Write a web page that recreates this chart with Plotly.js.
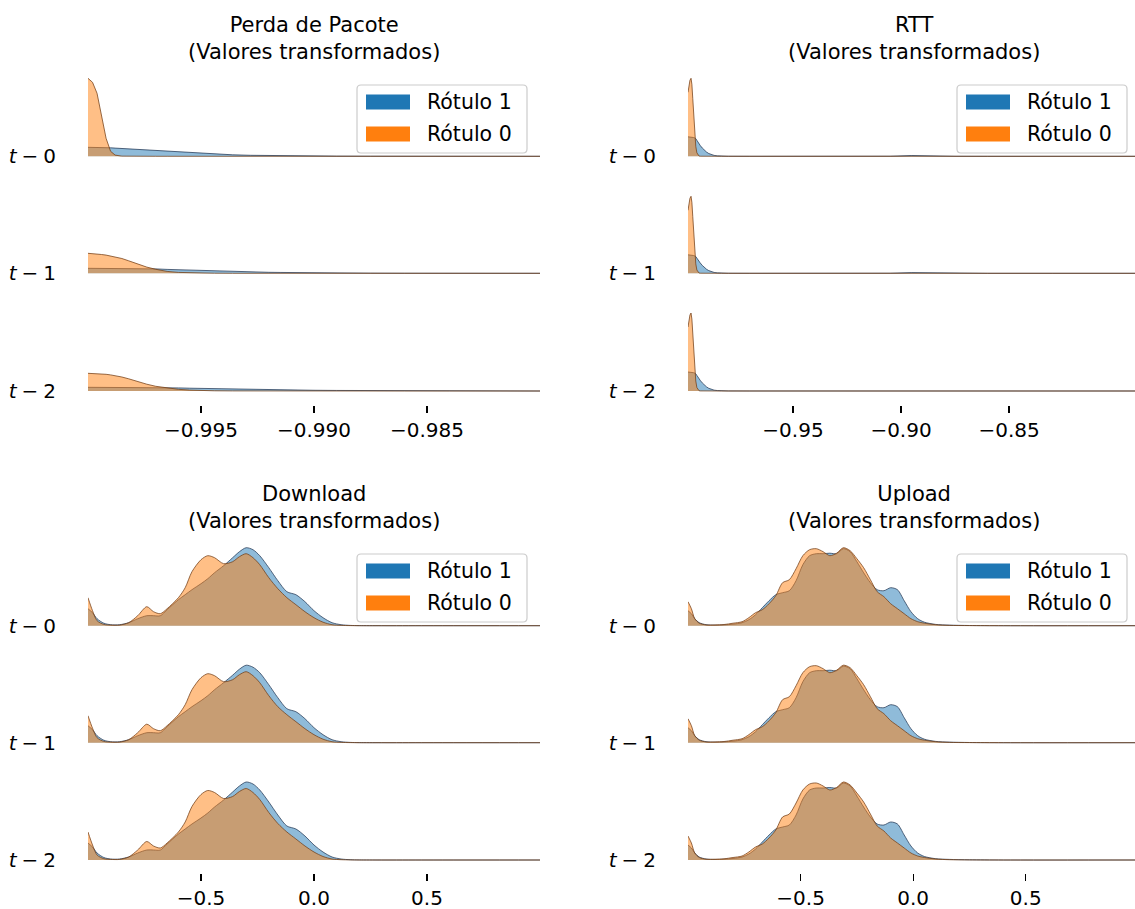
<!DOCTYPE html>
<html><head><meta charset="utf-8">
<script src="https://cdn.plot.ly/plotly-3.0.1.min.js"></script>
<style>html,body{margin:0;padding:0;background:#fff}#chart{width:1135px;height:909px}</style>
</head><body><div id="chart"></div>
<script>
// ---------------- data ----------------
const seriesNames = ['Rótulo 1', 'Rótulo 0'];
const rowLabels = ['<i>t</i>\u2005−\u20050', '<i>t</i>\u2005−\u20051', '<i>t</i>\u2005−\u20052'];
const panelTitles = ['Perda de Pacote', 'RTT', 'Download', 'Upload'];
const subtitle = '(Valores transformados)';

// Perda de Pacote (transformed values), relative density
const perdaX = [-1.0, -0.9998, -0.9996, -0.9994, -0.9992, -0.999, -0.9988, -0.9985, -0.9982, -0.9978, -0.9974, -0.997, -0.9965, -0.996, -0.9955, -0.995, -0.9944, -0.9936, -0.9928, -0.992, -0.9915, -0.991, -0.99, -0.989, -0.9875, -0.986, -0.984, -0.982, -0.98];
const perda1_t0 = [9, 9, 9, 8.9, 8.7, 8.5, 8.2, 7.8, 7.3, 6.7, 6.1, 5.5, 4.9, 4.3, 3.6, 3.0, 2.2, 1.5, 1.0, 0.7, 0.55, 0.45, 0.3, 0.18, 0.1, 0.05, 0.02, 0.01, 0];
const perda0_t0 = [78, 74, 63, 42, 18, 5, 1.2, 0.15, 0, 0, 0, 0, 0, 0, 0, 0, 0, 0, 0.05, 0.3, 0.6, 0.3, 0.05, 0, 0, 0, 0, 0, 0];
const perda1_t1 = [5, 5, 5, 5, 5, 5, 5, 5, 5, 4.9, 4.7, 4.4, 3.9, 3.5, 3.1, 2.7, 2.3, 1.8, 1.4, 1.0, 0.85, 0.7, 0.45, 0.3, 0.15, 0.08, 0.03, 0.01, 0];
const perda0_t1 = [20, 19.8, 19.3, 18.8, 18.2, 17.4, 16.5, 14.8, 12.5, 9.0, 6.2, 4.0, 1.9, 0.9, 0.45, 0.2, 0.08, 0, 0, 0, 0, 0, 0, 0, 0, 0, 0, 0, 0];
const perda1_t2 = [3.7, 3.7, 3.7, 3.7, 3.7, 3.7, 3.7, 3.7, 3.7, 3.7, 3.65, 3.55, 3.35, 3.1, 2.8, 2.55, 2.2, 1.8, 1.4, 1.1, 1.0, 0.9, 0.72, 0.55, 0.38, 0.25, 0.12, 0.05, 0];
const perda0_t2 = [17.7, 17.6, 17.4, 17.1, 16.7, 16.1, 15.4, 14.0, 12.2, 9.3, 6.8, 4.7, 2.9, 1.7, 0.9, 0.45, 0.2, 0.08, 0, 0, 0, 0, 0, 0, 0, 0, 0, 0, 0];
const perdaTicks = [-0.995, -0.990, -0.985];
const perdaTickText = ['−0.995', '−0.990', '−0.985'];

// RTT
const rttX = [-0.9986, -0.9982, -0.9977, -0.9972, -0.9968, -0.9964, -0.996, -0.9955, -0.995, -0.9945, -0.994, -0.9935, -0.993, -0.992, -0.991, -0.99, -0.989, -0.988, -0.9865, -0.985, -0.983, -0.98, -0.97, -0.95, -0.92, -0.905, -0.895, -0.885, -0.875, -0.86, -0.83, -0.79];
const rtt1_t0 = [19.5, 19.5, 19.4, 19.3, 19.2, 19.0, 18.8, 18.4, 17.7, 16, 14, 12.5, 11, 8.3, 6, 4.2, 2.8, 1.8, 0.9, 0.45, 0.2, 0.08, 0.02, 0, 0, 0.1, 0.8, 0.3, 0.05, 0, 0, 0];
const rtt0_t0 = [64, 70, 76, 78, 72, 58, 40, 22, 10, 3.5, 1, 0.3, 0.08, 0, 0, 0, 0, 0, 0, 0, 0, 0, 0, 0, 0, 0, 0.1, 0.3, 0.1, 0, 0, 0];
const rtt1_t1 = [18.5, 18.5, 18.4, 18.3, 18.2, 18.0, 17.8, 17.4, 16.8, 15.2, 13.3, 11.9, 10.5, 7.9, 5.7, 4.0, 2.7, 1.7, 0.85, 0.45, 0.2, 0.08, 0.02, 0, 0, 0.1, 0.7, 0.3, 0.05, 0, 0, 0];
const rtt0_t1 = [63, 69, 75, 77, 71, 57, 39, 21, 9.5, 3.3, 1, 0.3, 0.08, 0, 0, 0, 0, 0, 0, 0, 0, 0, 0, 0, 0, 0, 0, 0, 0, 0, 0, 0];
const rtt1_t2 = [19, 19, 18.9, 18.8, 18.7, 18.5, 18.3, 17.9, 17.2, 15.6, 13.6, 12.2, 10.8, 8.1, 5.8, 4.1, 2.7, 1.7, 0.85, 0.45, 0.2, 0.08, 0.02, 0, 0, 0, 0.1, 0.05, 0, 0, 0, 0];
const rtt0_t2 = [64, 70, 76, 78, 72, 58, 40, 22, 10, 3.5, 1, 0.3, 0.08, 0, 0, 0, 0, 0, 0, 0, 0, 0, 0, 0, 0, 0.1, 0.5, 0.2, 0.05, 0, 0, 0];
const rttTicks = [-0.95, -0.90, -0.85];
const rttTickText = ['−0.95', '−0.90', '−0.85'];

// Download
const downloadX = [-1.0, -0.98, -0.96, -0.93, -0.9, -0.86, -0.82, -0.78, -0.74, -0.71, -0.68, -0.65, -0.6, -0.57, -0.54, -0.5, -0.47, -0.44, -0.4, -0.36, -0.33, -0.3, -0.27, -0.24, -0.2, -0.16, -0.12, -0.08, -0.04, 0.0, 0.04, 0.08, 0.12, 0.16, 0.2, 0.3, 0.5, 1.0];
const download1_t0 = [17, 13, 7, 2.5, 1, 1, 3, 7, 10, 10, 10, 16, 26, 31, 36, 42, 47, 53, 60, 68, 74, 78, 76, 70, 58, 45, 34, 31, 24, 15, 8, 3, 1, 0.3, 0.1, 0, 0, 0];
const download0_t0 = [28, 15, 5, 1.3, 0.6, 0.6, 3, 10, 19, 14, 12, 17, 28, 38, 54, 66, 70, 68, 62, 64, 69, 72, 68, 61, 48, 37, 28, 21, 14, 8, 3.5, 1, 0.3, 0.1, 0, 0, 0, 0];
const download1_t1 = [17, 13, 7, 2.5, 1, 1, 3, 7, 10, 10, 10, 16, 26, 31, 36, 42, 47, 53, 60, 67.5, 73.5, 77.5, 75.5, 70, 58, 45, 34, 31, 24, 15, 8, 3, 1, 0.3, 0.1, 0, 0, 0];
const download0_t1 = [27, 14.5, 5, 1.3, 0.6, 0.6, 3, 10, 18.5, 14, 12, 17, 28, 38, 53, 65, 69, 67, 61, 63, 68, 71, 67, 60, 47, 36, 28, 21, 14, 8, 3.5, 1, 0.3, 0.1, 0, 0, 0, 0];
const download1_t2 = [17, 13, 7, 2.5, 1, 1, 3, 7, 10, 10, 10, 16, 26, 31, 36, 42, 47, 53, 60, 68, 74, 78, 76, 70, 58, 45, 34, 31, 24, 15, 8, 3, 1, 0.3, 0.1, 0, 0, 0];
const download0_t2 = [28, 15, 5, 1.3, 0.6, 0.6, 3, 10, 18.5, 14, 12, 17, 28, 38, 53.5, 65.5, 69.5, 67.5, 61.5, 63.5, 68.5, 71.5, 67.5, 60.5, 47.5, 36.5, 28, 21, 14, 8, 3.5, 1, 0.3, 0.1, 0, 0, 0, 0];

// Upload
const uploadX = [-1.0, -0.985, -0.97, -0.95, -0.92, -0.88, -0.84, -0.8, -0.76, -0.73, -0.7, -0.67, -0.64, -0.61, -0.58, -0.55, -0.52, -0.49, -0.46, -0.43, -0.4, -0.37, -0.34, -0.31, -0.28, -0.25, -0.22, -0.19, -0.16, -0.13, -0.1, -0.07, -0.04, -0.01, 0.02, 0.05, 0.1, 0.16, 0.25, 0.4, 1.0];
const upload1_t0 = [15, 12, 7, 3, 1, 0.5, 0.8, 1.5, 3, 6, 11, 18, 25, 31, 33, 35, 45, 61, 70, 72, 72, 72.5, 72, 77, 74, 64, 53, 43, 36, 35, 38, 36, 25, 14, 7, 3.5, 1.3, 0.6, 0.2, 0, 0];
const upload0_t0 = [24, 17, 7, 2.5, 0.8, 0.8, 1.2, 2.5, 4, 8, 13, 16, 22, 30, 43, 46, 57, 70, 76, 77, 74, 70, 72.5, 78, 75, 67, 58, 46, 34, 29, 22, 17, 12, 7, 4, 2.5, 1, 0.3, 0.1, 0, 0];
const upload1_t1 = [15, 12, 7, 3, 1, 0.5, 0.8, 1.5, 3, 6, 11, 18, 25, 31, 33, 35, 45, 61, 70, 72, 72, 72.5, 72, 76.5, 74, 64, 53, 43, 36, 35, 38, 36, 25, 14, 7, 3.5, 1.3, 0.6, 0.2, 0, 0];
const upload0_t1 = [24, 17, 7, 2.5, 0.8, 0.8, 1.2, 2.5, 4, 8, 13, 16, 22, 30, 43, 46, 57, 70, 76, 77, 74, 70, 72.5, 77.5, 75, 67, 58, 46, 34, 29, 22, 17, 12, 7, 4, 2.5, 1, 0.3, 0.1, 0, 0];
const upload1_t2 = [15, 12, 7, 3, 1, 0.5, 0.8, 1.5, 3, 6, 11, 18, 25, 31, 33, 35, 45, 61, 70, 72, 72, 72.5, 72, 77, 74, 64, 53, 43, 36, 35, 38, 36, 25, 14, 7, 3.5, 1.3, 0.6, 0.2, 0, 0];
const upload0_t2 = [24, 17, 7, 2.5, 0.8, 0.8, 1.2, 2.5, 4, 8, 13, 16, 22, 30, 43, 46, 57, 70, 76, 77, 74, 70, 72.5, 78, 75, 67, 58, 46, 34, 29, 22, 17, 12, 7, 4, 2.5, 1, 0.3, 0.1, 0, 0];

const unitTicks = [-0.5, 0.0, 0.5];
const unitTickText = ['−0.5', '0.0', '0.5'];

// ---------------- layout / styling ----------------
const W = 1135, H = 909;
const fx = px => px / W;
const fy = py => 1 - py / H;
const FONT = 'DejaVu Sans, Liberation Sans, sans-serif';

const panels = [
  {x: perdaX, rows: [[perda1_t0, perda0_t0], [perda1_t1, perda0_t1], [perda1_t2, perda0_t2]],
   range: [-1.0, -0.98], tv: perdaTicks, tt: perdaTickText, left: 88, right: 540,
   base: [156.3, 273.3, 391], axisY: 404.5, top: 0, shape: 'linear'},
  {x: rttX, rows: [[rtt1_t0, rtt0_t0], [rtt1_t1, rtt0_t1], [rtt1_t2, rtt0_t2]],
   range: [-0.9986, -0.7917], tv: rttTicks, tt: rttTickText, left: 688, right: 1135,
   base: [156.3, 273.3, 391], axisY: 404.5, top: 0, shape: 'linear'},
  {x: downloadX, rows: [[download1_t0, download0_t0], [download1_t1, download0_t1], [download1_t2, download0_t2]],
   range: [-1.0, 1.0], tv: unitTicks, tt: unitTickText, left: 88, right: 540,
   base: [625.7, 742.7, 860], axisY: 872.5, top: 469, shape: 'spline'},
  {x: uploadX, rows: [[upload1_t0, upload0_t0], [upload1_t1, upload0_t1], [upload1_t2, upload0_t2]],
   range: [-1.0, 0.985], tv: unitTicks, tt: unitTickText, left: 688, right: 1135,
   base: [625.7, 742.7, 860], axisY: 872.5, top: 469, shape: 'spline'}
];

const fillCols = ['rgba(31,119,180,0.5)', 'rgba(255,127,14,0.5)'];
const lineCols = ['rgba(25,45,75,0.7)', 'rgba(115,62,22,0.75)'];
const solidCols = ['#1f77b4', '#ff7f0e'];

const traces = [];
const layout = {
  width: W, height: H,
  margin: {l: 0, r: 0, t: 0, b: 0},
  paper_bgcolor: '#ffffff', plot_bgcolor: 'rgba(0,0,0,0)',
  showlegend: false,
  font: {family: FONT, size: 20, color: '#000'},
  annotations: [], shapes: []
};

function roundRect(x0, y0, x1, y1, r) {
  const P = (a, b) => fx(a) + ',' + fy(b);
  return 'M' + P(x0 + r, y0) + ' L' + P(x1 - r, y0) + ' Q' + P(x1, y0) + ' ' + P(x1, y0 + r) +
    ' L' + P(x1, y1 - r) + ' Q' + P(x1, y1) + ' ' + P(x1 - r, y1) +
    ' L' + P(x0 + r, y1) + ' Q' + P(x0, y1) + ' ' + P(x0, y1 - r) +
    ' L' + P(x0, y0 + r) + ' Q' + P(x0, y0) + ' ' + P(x0 + r, y0) + ' Z';
}

let yi = 0;
panels.forEach((p, pi) => {
  const xname = pi === 0 ? 'x' : 'x' + (pi + 1);
  layout[pi === 0 ? 'xaxis' : 'xaxis' + (pi + 1)] = {
    domain: [fx(p.left), fx(p.right)], range: p.range, anchor: 'free', position: fy(p.axisY),
    showline: false, showgrid: false, zeroline: false,
    ticks: 'outside', ticklen: 7, tickwidth: 1.3, tickcolor: '#000',
    tickmode: 'array', tickvals: p.tv, ticktext: p.tt,
    tickfont: {family: FONT, size: 20, color: '#000'}, fixedrange: true
  };
  p.rows.forEach((row, ri) => {
    yi++;
    const yname = yi === 1 ? 'y' : 'y' + yi;
    const b = p.base[ri];
    layout[yi === 1 ? 'yaxis' : 'yaxis' + yi] = {
      domain: [fy(b + 2), fy(b - 80)], range: [-2, 80], anchor: xname,
      showline: false, showgrid: false, zeroline: false,
      tickmode: 'array', tickvals: [0], ticktext: [rowLabels[ri]],
      ticks: 'outside', ticklen: 27, tickcolor: 'rgba(0,0,0,0)',
      tickfont: {family: FONT, size: 20, color: '#000'}, fixedrange: true
    };
    row.forEach((ys, si) => {
      traces.push({
        type: 'scatter', mode: 'lines', x: p.x, y: ys, xaxis: xname, yaxis: yname,
        fill: 'tozeroy', fillcolor: fillCols[si],
        line: {color: lineCols[si], width: 1, shape: p.shape, smoothing: 0.8},
        name: seriesNames[si], hoverinfo: 'skip', showlegend: false
      });
    });
  });

  // panel title (two lines in one text)
  const cx = (p.left + (pi % 2 === 0 ? p.right : 1140)) / 2;
  layout.annotations.push({xref: 'paper', yref: 'paper', x: fx(cx), y: fy(39 + p.top), xanchor: 'center', yanchor: 'middle',
    text: panelTitles[pi] + '<br>' + subtitle, showarrow: false, align: 'center',
    font: {family: FONT, size: 21, color: '#000'}});

  // legend box
  const lx = p.left + 269, ly = 85 + p.top;
  layout.shapes.push({type: 'path', xref: 'paper', yref: 'paper', layer: 'above',
    path: roundRect(lx, ly, lx + 170, ly + 68, 4),
    line: {color: '#cccccc', width: 1.2}, fillcolor: 'rgba(255,255,255,0.8)'});
  [0, 1].forEach(si => {
    const ty = ly + 17 + si * 32;
    layout.shapes.push({type: 'rect', xref: 'paper', yref: 'paper', layer: 'above',
      x0: fx(lx + 9), x1: fx(lx + 53), y0: fy(ty - 7.5), y1: fy(ty + 7.5),
      line: {width: 0}, fillcolor: solidCols[si]});
    layout.annotations.push({xref: 'paper', yref: 'paper', x: fx(lx + 68), y: fy(ty), xanchor: 'left', yanchor: 'middle',
      text: seriesNames[si], showarrow: false, font: {family: FONT, size: 20.5, color: '#000'}});
  });
});

Plotly.newPlot('chart', traces, layout, {displayModeBar: false, staticPlot: true});
</script></body></html>
